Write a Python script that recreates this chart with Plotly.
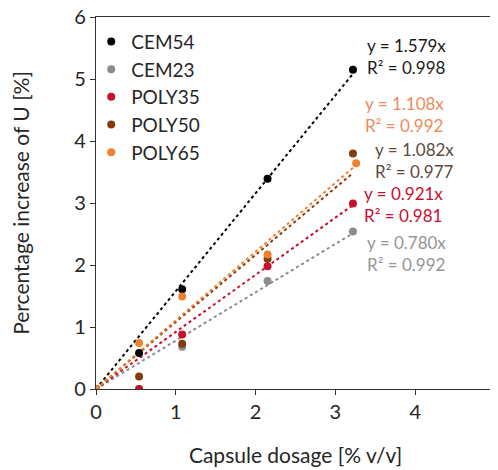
import plotly.graph_objects as go

# capsule dosage [% v/v]
dosage = [0, 0.54, 1.08, 2.15, 3.22]

series_names = ["CEM54", "CEM23", "POLY35", "POLY50", "POLY65"]
cem54 = [0, 0.58, 1.61, 3.39, 5.15]
cem23 = [0, 0.0, 0.68, 1.74, 2.54]
poly35 = [0, 0.0, 0.88, 1.98, 2.99]
poly50 = [0, 0.20, 0.73, 2.10, 3.80]
poly65 = [0, 0.74, 1.49, 2.17, 3.64]
poly65_x = [0, 0.54, 1.08, 2.15, 3.26]

# trendline slopes and R² as printed on the chart
slopes = [1.579, 0.780, 0.921, 1.082, 1.108]
r2 = [0.998, 0.992, 0.981, 0.977, 0.992]

colors = ["#000000", "#8c8c8c", "#c8102e", "#843c0c", "#f0802e"]
label_colors = ["#1a1a1a", "#959595", "#c8102e", "#5e4a40", "#f08a5a"]
# label anchor positions (x, y in data units) for each equation block
label_pos = [(3.37, 5.36), (3.37, 2.19), (3.33, 2.97), (3.47, 3.69), (3.35, 4.43)]

ys = [cem54, cem23, poly35, poly50, poly65]
xs = [dosage, dosage, dosage, dosage, poly65_x]

fig = go.Figure()

# dotted linear trendlines through origin
for name, x, k, c in zip(series_names, xs, slopes, colors):
    xe = [0, x[-1]]
    fig.add_trace(go.Scatter(x=xe, y=[k * v for v in xe], mode="lines",
                             line=dict(color=c, width=2, dash="dot"),
                             showlegend=False, hoverinfo="skip"))

for name, x, y, c in zip(series_names, xs, ys, colors):
    fig.add_trace(go.Scatter(x=x, y=y, mode="markers", name=name,
                             marker=dict(color=c, size=8)))

for k, r, c, (lx, ly) in zip(slopes, r2, label_colors, label_pos):
    fig.add_annotation(x=lx, y=ly, xref="x", yref="y", showarrow=False,
                       text=f"y = {k:.3f}x<br>R² = {r:.3f}",
                       align="left", xanchor="left", yanchor="middle",
                       font=dict(size=17, color=c))

# page body adds an 8px offset, margins compensate for it
fig.update_layout(
    width=498, height=470,
    margin=dict(l=88, r=11, t=9, b=89, autoexpand=False),
    paper_bgcolor="white", plot_bgcolor="white",
    font=dict(family="Lato, Carlito, sans-serif", color="#262626"),
    legend=dict(x=-0.012, y=0.985, xanchor="left", yanchor="top",
                font=dict(size=19), bgcolor="rgba(0,0,0,0)",
                tracegroupgap=0),
)
fig.update_xaxes(range=[0, 5], dtick=1, showline=True, linecolor="#333",
                 linewidth=1.2, mirror=True, ticks="outside", ticklen=5,
                 tickcolor="#333", showgrid=False, zeroline=False,
                 automargin=False, ticklabeloverflow="allow",
                 tickfont=dict(size=20),
                 title=dict(text="Capsule dosage [% v/v]", font=dict(size=21),
                            standoff=26))
fig.update_yaxes(range=[0, 6], dtick=1, showline=True, linecolor="#333",
                 linewidth=1.2, mirror=True, ticks="outside", ticklen=5,
                 tickcolor="#333", showgrid=False, zeroline=False,
                 automargin=False, ticklabeloverflow="allow",
                 tickfont=dict(size=20),
                 title=dict(text="Percentage increase of U [%]",
                            font=dict(size=21), standoff=38))

fig.write_html("out.html")
